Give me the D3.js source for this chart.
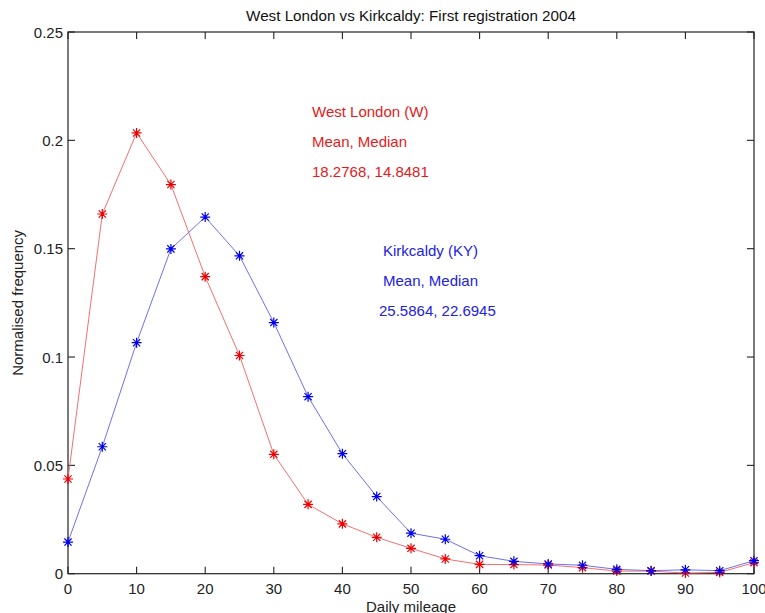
<!DOCTYPE html>
<html><head><meta charset="utf-8">
<script src="https://cdn.jsdelivr.net/npm/d3@7"></script>
<style>
body{margin:0;background:#fff;}
svg{display:block;font-family:"Liberation Sans",Arial,sans-serif;}
</style></head>
<body>
<svg id="chart" width="765" height="613"></svg>
<script>
const mileage = [0,5,10,15,20,25,30,35,40,45,50,55,60,65,70,75,80,85,90,95,100];
const westLondon = [0.0437,0.166,0.2034,0.1796,0.1371,0.1007,0.0551,0.032,0.023,0.0168,0.0117,0.0068,0.0043,0.0042,0.004,0.0028,0.0012,0.0012,0.0003,0.0006,0.0051];
const kirkcaldy = [0.0146,0.0586,0.1066,0.1499,0.1646,0.1467,0.1159,0.0817,0.0554,0.0356,0.0187,0.0159,0.0083,0.0057,0.0045,0.0039,0.002,0.0014,0.0018,0.0014,0.006];
const xTicks = [0,10,20,30,40,50,60,70,80,90,100];
const yTicks = [0,0.05,0.1,0.15,0.2,0.25];
const yTickLabels = ["0","0.05","0.1","0.15","0.2","0.25"];
const titleText = "West London vs Kirkcaldy: First registration 2004";
const xLabel = "Daily mileage";
const yLabel = "Normalised frequency";
const wlNotes = ["West London (W)","Mean, Median","18.2768, 14.8481"];
const kyNotes = ["Kirkcaldy (KY)","Mean, Median","25.5864, 22.6945"];

const svg = d3.select("#chart");
const L=68, R=754, T=32, B=573.7;
const x = d3.scaleLinear().domain([0,100]).range([L,R]);
const y = d3.scaleLinear().domain([0,0.25]).range([B,T]);

svg.append("rect").attr("x",L).attr("y",T).attr("width",R-L).attr("height",B-T)
  .attr("fill","none").attr("stroke","#222").attr("stroke-width",1.2);

const tl = 7;
const g = svg.append("g").attr("stroke","#222").attr("stroke-width",1.1);
xTicks.forEach(v=>{
  g.append("line").attr("x1",x(v)).attr("x2",x(v)).attr("y1",B).attr("y2",B-tl);
  g.append("line").attr("x1",x(v)).attr("x2",x(v)).attr("y1",T).attr("y2",T+tl);
});
yTicks.forEach(v=>{
  g.append("line").attr("x1",L).attr("x2",L+tl).attr("y1",y(v)).attr("y2",y(v));
  g.append("line").attr("x1",R).attr("x2",R-tl).attr("y1",y(v)).attr("y2",y(v));
});

const fs = 15;
svg.append("g").selectAll("text").data(xTicks).join("text")
  .attr("x",d=>x(d)).attr("y",594).attr("text-anchor","middle")
  .attr("font-size",fs).attr("fill","#222").text(d=>d);
svg.append("g").selectAll("text").data(yTicks).join("text")
  .attr("x",63).attr("y",d=>y(d)+5.5).attr("text-anchor","end")
  .attr("font-size",fs).attr("fill","#222").text((d,i)=>yTickLabels[i]);

svg.append("text").attr("x",411).attr("y",21).attr("text-anchor","middle")
  .attr("font-size",15.2).attr("fill","#111").text(titleText);
svg.append("text").attr("x",411).attr("y",611.5).attr("text-anchor","middle")
  .attr("font-size",fs).attr("fill","#222").text(xLabel);
svg.append("text").attr("transform",`translate(23,${(T+B)/2}) rotate(-90)`)
  .attr("text-anchor","middle").attr("font-size",fs).attr("fill","#222").text(yLabel);

function drawSeries(vals, lineCol, markCol){
  const line = d3.line().x((d,i)=>x(mileage[i])).y(d=>y(d));
  svg.append("path").datum(vals).attr("d",line).attr("fill","none")
    .attr("stroke",lineCol).attr("stroke-width",1);
  const p = d3.path();
  const s = 5, sd = 3.6;
  vals.forEach((v,i)=>{
    const cx=x(mileage[i]), cy=y(v);
    p.moveTo(cx-s,cy); p.lineTo(cx+s,cy);
    p.moveTo(cx,cy-s); p.lineTo(cx,cy+s);
    p.moveTo(cx-sd,cy-sd); p.lineTo(cx+sd,cy+sd);
    p.moveTo(cx-sd,cy+sd); p.lineTo(cx+sd,cy-sd);
  });
  svg.append("path").attr("d",p.toString()).attr("fill","none")
    .attr("stroke",markCol).attr("stroke-width",1.2);
}
drawSeries(westLondon,"#f27070","#ee0000");
drawSeries(kirkcaldy,"#7070ea","#0000ee");

const noteFs = 15;
svg.append("g").selectAll("text").data(wlNotes).join("text")
  .attr("x",312).attr("y",(d,i)=>116.5+i*30.2).attr("font-size",noteFs)
  .attr("fill","#e21a1a").text(d=>d);
svg.append("g").selectAll("text").data(kyNotes).join("text")
  .attr("x",(d,i)=>i==2?379:383).attr("y",(d,i)=>255.5+i*30.3).attr("font-size",noteFs)
  .attr("fill","#2222dd").text(d=>d);
</script>
</body></html>
